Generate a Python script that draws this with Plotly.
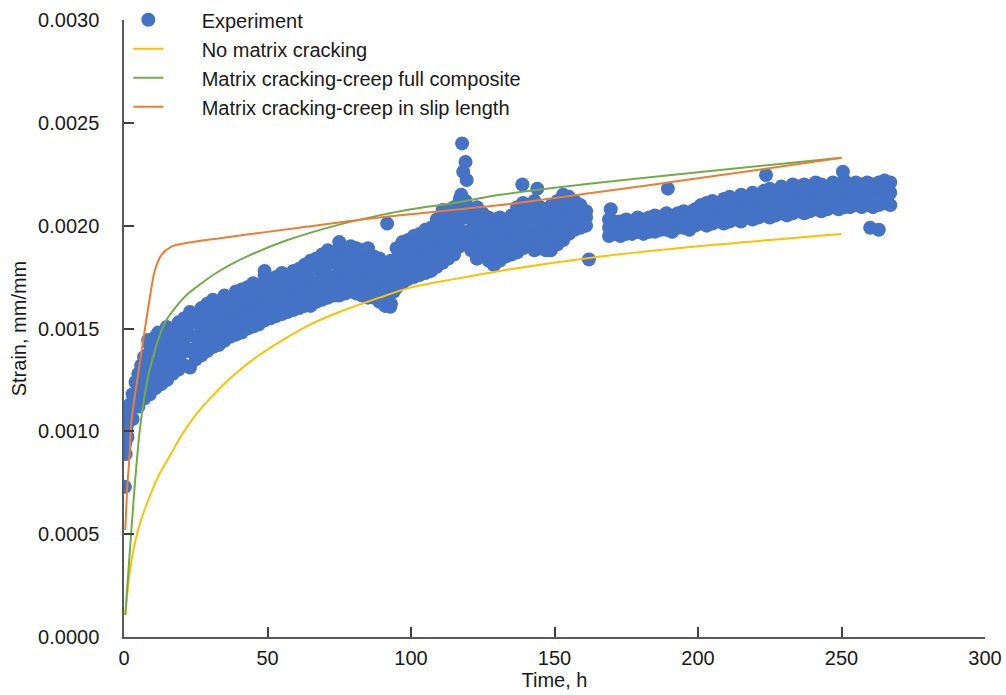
import plotly.graph_objects as go

# ---------------- data ----------------
exp_time = [1, 3, 5, 7, 9, 11, 13, 15, 17, 19, 21, 23, 25, 27, 29, 31, 33, 35, 37, 39,
            41, 43, 45, 47, 49, 51, 53, 55, 57, 59, 61, 63, 65, 67, 69, 71, 73, 75, 77, 79,
            81, 83, 85, 87, 89, 91, 93, 95, 97, 99, 101, 103, 105, 107, 109, 111, 113, 115, 117, 119,
            121, 123, 125, 127, 129, 131, 133, 135, 137, 139, 141, 143, 145, 147, 149, 151, 153, 155, 157, 159,
            161, 169, 171, 173, 175, 177, 179, 181, 183, 185, 187, 189, 191, 193, 195, 197, 199, 201, 203, 205,
            207, 209, 211, 213, 215, 217, 219, 221, 223, 225, 227, 229, 231, 233, 235, 237, 239, 241, 243, 245,
            247, 249, 251, 253, 255, 257, 259, 261, 263, 265, 267]

exp_strain_low = [0.00098, 0.00106, 0.00112, 0.00116, 0.00118, 0.00121, 0.00123, 0.00125, 0.00128, 0.00130,
                  0.00132, 0.00131, 0.00135, 0.00137, 0.00139, 0.00141, 0.00142, 0.00144, 0.00146, 0.00147,
                  0.00148, 0.00150, 0.00151, 0.00152, 0.00154, 0.00155, 0.00156, 0.00157, 0.00158, 0.00159,
                  0.00160, 0.00161, 0.00161, 0.00163, 0.00164, 0.00165, 0.00166, 0.00166, 0.00167, 0.00168,
                  0.00167, 0.00166, 0.00165, 0.00165, 0.00163, 0.00161, 0.00162, 0.00170, 0.00172, 0.00174,
                  0.00175, 0.00176, 0.00177, 0.00178, 0.00180, 0.00182, 0.00184, 0.00186, 0.00190, 0.00191,
                  0.00188, 0.00184, 0.00186, 0.00183, 0.00181, 0.00183, 0.00185, 0.00186, 0.00187, 0.00189,
                  0.00190, 0.00188, 0.00189, 0.00188, 0.00189, 0.00191, 0.00193, 0.00196, 0.00198, 0.00199,
                  0.00200, 0.00195, 0.00196, 0.00195, 0.00196, 0.00196, 0.00197, 0.00196, 0.00197, 0.00197,
                  0.00198, 0.00198, 0.00197, 0.00199, 0.00199, 0.00198, 0.00200, 0.00201, 0.00200, 0.00201,
                  0.00202, 0.00201, 0.00202, 0.00203, 0.00202, 0.00204, 0.00203, 0.00204, 0.00205, 0.00204,
                  0.00205, 0.00206, 0.00205, 0.00206, 0.00207, 0.00206, 0.00207, 0.00208, 0.00207, 0.00208,
                  0.00209, 0.00208, 0.00209, 0.00209, 0.00210, 0.00209, 0.00210, 0.00209, 0.00210, 0.00211,
                  0.00210]

exp_strain_mid = [0.00103, 0.00112, 0.00121, 0.00127, 0.00131, 0.00133, 0.00137, 0.00139, 0.00140, 0.00143,
                  0.00145, 0.00147, 0.00146, 0.00149, 0.00151, 0.00152, 0.00155, 0.00154, 0.00157, 0.00158,
                  0.00160, 0.00159, 0.00162, 0.00163, 0.00165, 0.00164, 0.00167, 0.00166, 0.00168, 0.00169,
                  0.00171, 0.00170, 0.00173, 0.00172, 0.00175, 0.00176, 0.00175, 0.00178, 0.00177, 0.00179,
                  0.00178, 0.00177, 0.00176, 0.00174, 0.00173, 0.00170, 0.00172, 0.00180, 0.00183, 0.00185,
                  0.00186, 0.00187, 0.00189, 0.00190, 0.00192, 0.00194, 0.00197, 0.00199, 0.00203, 0.00204,
                  0.00198, 0.00195, 0.00197, 0.00194, 0.00192, 0.00196, 0.00195, 0.00197, 0.00199, 0.00200,
                  0.00201, 0.00199, 0.00200, 0.00198, 0.00199, 0.00201, 0.00204, 0.00206, 0.00207, 0.00206,
                  0.00204, 0.00199, 0.00199, 0.00198, 0.00199, 0.00200, 0.00200, 0.00201, 0.00200, 0.00201,
                  0.00202, 0.00203, 0.00202, 0.00203, 0.00204, 0.00203, 0.00205, 0.00206, 0.00207, 0.00206,
                  0.00208, 0.00207, 0.00209, 0.00208, 0.00210, 0.00209, 0.00211, 0.00210, 0.00212, 0.00211,
                  0.00213, 0.00212, 0.00214, 0.00213, 0.00214, 0.00215, 0.00214, 0.00215, 0.00214, 0.00216,
                  0.00215, 0.00216, 0.00215, 0.00216, 0.00215, 0.00216, 0.00217, 0.00215, 0.00216, 0.00217,
                  0.00216]

exp_strain_high = [0.00108, 0.00118, 0.00128, 0.00136, 0.00142, 0.00146, 0.00144, 0.00150, 0.00148, 0.00153,
                   0.00155, 0.00158, 0.00157, 0.00160, 0.00162, 0.00164, 0.00163, 0.00166, 0.00165, 0.00168,
                   0.00169, 0.00170, 0.00172, 0.00171, 0.00176, 0.00174, 0.00175, 0.00177, 0.00176, 0.00178,
                   0.00179, 0.00181, 0.00183, 0.00184, 0.00186, 0.00188, 0.00187, 0.00189, 0.00188, 0.00190,
                   0.00189, 0.00188, 0.00187, 0.00185, 0.00184, 0.00181, 0.00183, 0.00189, 0.00192, 0.00193,
                   0.00195, 0.00196, 0.00198, 0.00199, 0.00203, 0.00205, 0.00206, 0.00209, 0.00213, 0.00212,
                   0.00208, 0.00209, 0.00206, 0.00204, 0.00203, 0.00204, 0.00202, 0.00205, 0.00209, 0.00211,
                   0.00210, 0.00212, 0.00209, 0.00208, 0.00210, 0.00212, 0.00215, 0.00214, 0.00212, 0.00210,
                   0.00207, 0.00203, 0.00202, 0.00202, 0.00203, 0.00202, 0.00204, 0.00203, 0.00204, 0.00205,
                   0.00204, 0.00206, 0.00205, 0.00206, 0.00207, 0.00206, 0.00208, 0.00210, 0.00211, 0.00212,
                   0.00211, 0.00213, 0.00214, 0.00213, 0.00215, 0.00214, 0.00216, 0.00215, 0.00217, 0.00218,
                   0.00217, 0.00219, 0.00218, 0.00220, 0.00219, 0.00220, 0.00219, 0.00221, 0.00220, 0.00219,
                   0.00221, 0.00220, 0.00222, 0.00220, 0.00221, 0.00220, 0.00221, 0.00220, 0.00221, 0.00222,
                   0.00221]

exp_time_even = [2, 4, 6, 8, 10, 12, 14, 16, 18, 20, 22, 24, 26, 28, 30, 32, 34, 36, 38, 40,
                 42, 44, 46, 48, 50, 52, 54, 56, 58, 60, 62, 64, 66, 68, 70, 72, 74, 76, 78, 80,
                 82, 84, 86, 88, 90, 92, 94, 96, 98, 100, 102, 104, 106, 108, 110, 112, 114, 116, 118, 120,
                 122, 124, 126, 128, 130, 132, 134, 136, 138, 140, 142, 144, 146, 148, 150, 152, 154, 156, 158, 160,
                 170, 172, 174, 176, 178, 180, 182, 184, 186, 188, 190, 192, 194, 196, 198, 200, 202, 204, 206, 208,
                 210, 212, 214, 216, 218, 220, 222, 224, 226, 228, 230, 232, 234, 236, 238, 240, 242, 244, 246, 248,
                 250, 252, 254, 256, 258, 260, 262, 264, 266]

exp_strain_q1 = [0.00106, 0.00114, 0.00119, 0.00124, 0.00126, 0.00128, 0.00131, 0.00133, 0.00135, 0.00138,
                 0.00139, 0.00140, 0.00142, 0.00143, 0.00146, 0.00147, 0.00149, 0.00150, 0.00152, 0.00153,
                 0.00155, 0.00156, 0.00157, 0.00159, 0.00160, 0.00161, 0.00162, 0.00163, 0.00164, 0.00165,
                 0.00166, 0.00167, 0.00168, 0.00169, 0.00170, 0.00171, 0.00171, 0.00172, 0.00173, 0.00173,
                 0.00172, 0.00171, 0.00170, 0.00169, 0.00167, 0.00165, 0.00168, 0.00176, 0.00178, 0.00181,
                 0.00182, 0.00183, 0.00184, 0.00185, 0.00187, 0.00189, 0.00192, 0.00194, 0.00197, 0.00195,
                 0.00191, 0.00190, 0.00189, 0.00187, 0.00188, 0.00190, 0.00191, 0.00192, 0.00194, 0.00195,
                 0.00194, 0.00194, 0.00193, 0.00194, 0.00196, 0.00198, 0.00201, 0.00203, 0.00203, 0.00202,
                 0.00197, 0.00197, 0.00197, 0.00198, 0.00198, 0.00199, 0.00198, 0.00199, 0.00200, 0.00200,
                 0.00200, 0.00201, 0.00201, 0.00201, 0.00202, 0.00203, 0.00204, 0.00204, 0.00205, 0.00204,
                 0.00206, 0.00205, 0.00207, 0.00206, 0.00207, 0.00208, 0.00208, 0.00209, 0.00208, 0.00210,
                 0.00209, 0.00211, 0.00210, 0.00211, 0.00212, 0.00211, 0.00212, 0.00212, 0.00213, 0.00212,
                 0.00213, 0.00212, 0.00213, 0.00213, 0.00214, 0.00213, 0.00212, 0.00213, 0.00214]

exp_strain_q3 = [0.00113, 0.00124, 0.00132, 0.00137, 0.00140, 0.00141, 0.00145, 0.00146, 0.00148, 0.00150,
                 0.00152, 0.00153, 0.00154, 0.00156, 0.00158, 0.00159, 0.00160, 0.00162, 0.00161, 0.00165,
                 0.00164, 0.00167, 0.00168, 0.00170, 0.00169, 0.00171, 0.00172, 0.00171, 0.00174, 0.00175,
                 0.00176, 0.00177, 0.00179, 0.00180, 0.00181, 0.00182, 0.00183, 0.00183, 0.00184, 0.00185,
                 0.00183, 0.00182, 0.00181, 0.00179, 0.00178, 0.00176, 0.00179, 0.00186, 0.00188, 0.00190,
                 0.00191, 0.00192, 0.00194, 0.00196, 0.00198, 0.00201, 0.00203, 0.00206, 0.00209, 0.00207,
                 0.00202, 0.00203, 0.00201, 0.00199, 0.00200, 0.00199, 0.00200, 0.00202, 0.00205, 0.00206,
                 0.00206, 0.00205, 0.00204, 0.00204, 0.00206, 0.00209, 0.00211, 0.00210, 0.00208, 0.00206,
                 0.00201, 0.00201, 0.00200, 0.00201, 0.00202, 0.00202, 0.00203, 0.00203, 0.00203, 0.00205,
                 0.00204, 0.00204, 0.00205, 0.00205, 0.00207, 0.00208, 0.00209, 0.00209, 0.00210, 0.00210,
                 0.00212, 0.00211, 0.00212, 0.00213, 0.00213, 0.00214, 0.00214, 0.00215, 0.00216, 0.00216,
                 0.00217, 0.00217, 0.00218, 0.00217, 0.00218, 0.00219, 0.00218, 0.00219, 0.00219, 0.00218,
                 0.00219, 0.00219, 0.00218, 0.00219, 0.00219, 0.00218, 0.00219, 0.00219, 0.00220]

extra_time = [0.3, 0.6, 0.4, 1.2, 0.8, 117.8, 119.0, 118.2, 119.4, 117.5, 91.7, 111.0, 92.8, 162.0,
              169.6, 138.8, 144.0, 189.5, 223.7, 250.5, 260.0, 263.0, 14.9, 11.9, 8.4, 49.0, 75.0,
              85.0, 123.0, 128.8, 148.7]
extra_strain = [0.00073, 0.00089, 0.00094, 0.00097, 0.00101, 0.00240, 0.00231, 0.002262, 0.002222, 0.00215,
                0.00201, 0.002076, 0.001606, 0.001836, 0.00208, 0.00220, 0.00218, 0.00218, 0.002246, 0.002262,
                0.00199, 0.00198, 0.001507, 0.00148, 0.001444, 0.00178, 0.00192, 0.00189, 0.00184, 0.00181,
                0.00188]

no_crack_time = [0.45, 1.4, 3.1, 4.9, 7.2, 11.9, 16.5, 20, 25, 30, 38, 47, 56, 65, 75, 89, 100, 115, 131,
                 166, 200, 250]
no_crack_strain = [0.000107, 0.000245, 0.00041, 0.00052, 0.00062, 0.00078, 0.000894, 0.00098, 0.00108,
                   0.00116, 0.00127, 0.00137, 0.00145, 0.00152, 0.00158, 0.00165, 0.0017, 0.00174, 0.00178,
                   0.00185, 0.0019, 0.00196]

full_comp_time = [0.45, 2, 3.7, 5.5, 7.5, 9.5, 14.2, 21.2, 27, 32.8, 43.3, 57, 75, 89, 100, 115, 131, 166,
                  200, 250]
full_comp_strain = [0.000107, 0.00041, 0.00073, 0.001006, 0.0012, 0.00133, 0.001527, 0.001655, 0.00172,
                    0.001776, 0.001853, 0.00193, 0.002005, 0.00205, 0.00208, 0.00211, 0.00215, 0.00221,
                    0.00226, 0.00233]

slip_time = [0.45, 1.15, 2, 2.5, 5.5, 7.2, 9, 10.7, 13, 16.5, 21.2, 32.8, 61, 89, 131, 166, 200, 250]
slip_strain = [0.00052, 0.00073, 0.000894, 0.00104, 0.00133, 0.00149, 0.00165, 0.00178, 0.001857, 0.001898,
               0.001914, 0.001938, 0.00199, 0.00204, 0.0021, 0.002165, 0.00223, 0.00233]

x_ticks = [0, 50, 100, 150, 200, 250, 300]
y_ticks = [0.0, 0.0005, 0.0010, 0.0015, 0.0020, 0.0025, 0.0030]

series_names = ["Experiment", "No matrix cracking", "Matrix cracking-creep full composite",
                "Matrix cracking-creep in slip length"]

# ---------------- figure ----------------
FONT = "Liberation Sans, Arial, sans-serif"
TXT = "#1a1a1a"
PAD = "\u00a0" * 6  # gap between legend symbol and its text, as in the reference
fig = go.Figure()

fig.add_trace(go.Scatter(
    x=exp_time * 3 + exp_time_even * 2 + extra_time,
    y=exp_strain_low + exp_strain_mid + exp_strain_high + exp_strain_q1 + exp_strain_q3 + extra_strain,
    mode="markers", name=PAD + series_names[0],
    marker=dict(color="#4472C4", size=14, line=dict(width=0)),
))
fig.add_trace(go.Scatter(x=no_crack_time, y=no_crack_strain, mode="lines",
                         name=PAD + series_names[1],
                         line=dict(color="#FFC000", width=2, shape="spline", smoothing=0.8)))
fig.add_trace(go.Scatter(x=full_comp_time, y=full_comp_strain, mode="lines",
                         name=PAD + series_names[2],
                         line=dict(color="#70AD47", width=2, shape="spline", smoothing=0.8)))
fig.add_trace(go.Scatter(x=slip_time, y=slip_strain, mode="lines",
                         name=PAD + series_names[3],
                         line=dict(color="#ED7D31", width=2, shape="spline", smoothing=0.8)))

axis_common = dict(showline=True, linecolor="#595959", linewidth=1.5, ticks="inside",
                   ticklen=10, tickwidth=1.5, tickcolor="#404040", showgrid=False,
                   zeroline=False, tickfont=dict(family=FONT, size=20, color=TXT),
                   mirror=False, automargin=False)

fig.update_xaxes(range=[0, 300], tickvals=x_ticks, ticktext=[str(v) for v in x_ticks],
                 title=dict(text="Time, h", font=dict(family=FONT, size=20, color=TXT), standoff=4),
                 ticklabelstandoff=2, **axis_common)
fig.update_yaxes(range=[0, 0.003], tickvals=y_ticks, ticktext=[f"{v:.4f}" for v in y_ticks],
                 title=dict(text="Strain, mm/mm", font=dict(family=FONT, size=20, color=TXT), standoff=6),
                 ticklabelstandoff=19, **axis_common)

fig.update_layout(
    width=1006, height=695,
    margin=dict(l=124, r=21, t=20, b=58, autoexpand=False),
    plot_bgcolor="white", paper_bgcolor="white",
    font=dict(family=FONT, size=20, color=TXT),
    legend=dict(x=0.005, y=1.032, xanchor="left", yanchor="top",
                bgcolor="rgba(0,0,0,0)", font=dict(family=FONT, size=20, color=TXT),
                tracegroupgap=0, itemwidth=30),
    showlegend=True,
)

fig.write_html("out.html", config={"displayModeBar": False},
               post_script="document.body.style.margin='0';document.body.style.overflow='hidden';")
